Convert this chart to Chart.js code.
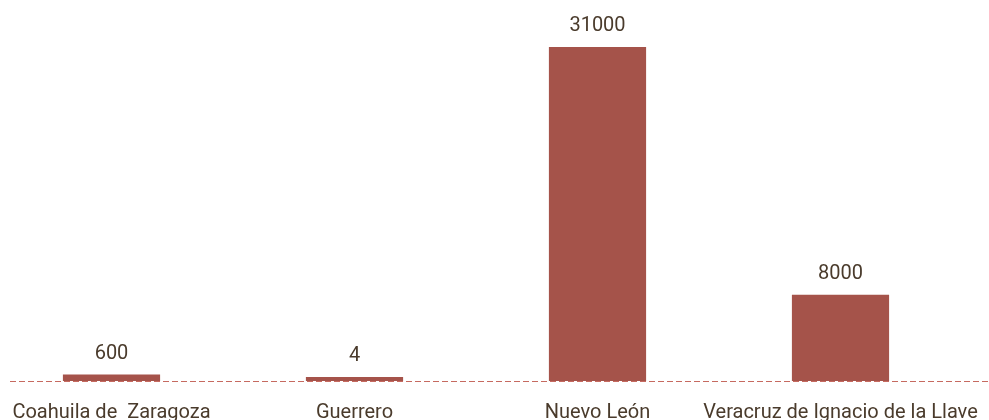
<!DOCTYPE html>
<html>
<head>
<meta charset="utf-8">
<script src="https://cdn.jsdelivr.net/npm/chart.js@4/dist/chart.umd.min.js"></script>
<style>
  html, body { margin: 0; padding: 0; background: #fff; overflow: hidden; }
  #barChart { display: block; margin-left: -10px; }
</style>
</head>
<body>
<canvas id="barChart" width="999" height="420"></canvas>
<script>
var estados = ["Coahuila de  Zaragoza", "Guerrero", "Nuevo León", "Veracruz de Ignacio de la Llave"];
var valores = [600, 4, 31000, 8000];

var barColor = "#a5534a";
var textColor = "#4a3b2c";

// etiquetas de valor arriba de cada barra + linea base punteada
var extras = {
    id: 'extras',
    afterDatasetsDraw: function (chart) {
        var ctx = chart.ctx;
        var y0 = chart.scales.y.getPixelForValue(0);
        ctx.save();
        ctx.strokeStyle = "#c66a60";
        ctx.lineWidth = 1.2;
        ctx.setLineDash([6, 3]);
        ctx.beginPath();
        ctx.moveTo(20, Math.round(y0) + 0.5);
        ctx.lineTo(chart.width, Math.round(y0) + 0.5);
        ctx.stroke();
        ctx.setLineDash([]);

        ctx.fillStyle = textColor;
        ctx.font = "20px Roboto";
        ctx.textAlign = "center";
        ctx.textBaseline = "alphabetic";
        var meta = chart.getDatasetMeta(0);
        meta.data.forEach(function (bar, i) {
            ctx.fillText(String(valores[i]), bar.x, bar.y - 16);
        });
        ctx.restore();
    }
};

var chartElem = document.getElementById("barChart");
var barChart = new Chart(chartElem, {
    type: 'bar',
    data: {
        labels: estados,
        datasets: [
            {
                label: "Valor",
                backgroundColor: barColor,
                borderWidth: 0,
                categoryPercentage: 0.8,
                barPercentage: 0.5,
                minBarLength: 4,
                data: valores
            }
        ]
    },
    options: {
        responsive: false,
        animation: false,
        layout: {
            padding: {left: 0, right: 27, top: 47, bottom: 0}
        },
        plugins: {
            legend: {display: false},
            tooltip: {enabled: false}
        },
        scales: {
            x: {
                grid: {display: false, drawTicks: false},
                border: {display: false},
                afterFit: function (scale) {
                    scale.height = 39;
                    scale.paddingLeft = 0;
                    scale.paddingRight = 0;
                },
                ticks: {
                    color: textColor,
                    font: {family: "Roboto", size: 20},
                    padding: 20,
                    autoSkip: false,
                    maxRotation: 0,
                    minRotation: 0
                }
            },
            y: {
                display: false,
                min: 0,
                max: 31000
            }
        }
    },
    plugins: [extras]
});
</script>
</body>
</html>
